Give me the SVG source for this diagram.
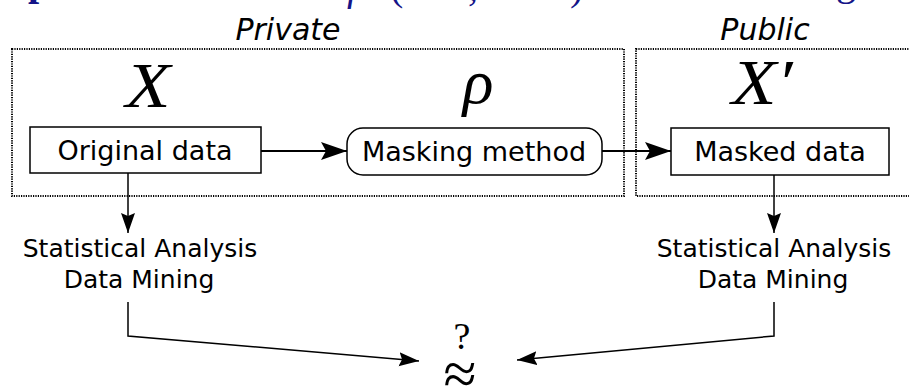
<svg xmlns="http://www.w3.org/2000/svg" width="909" height="388" viewBox="0 0 909 388">
<style>
.dot{fill:none;stroke:#000;stroke-width:2;stroke-dasharray:1.2 1.2}
.box{fill:#fff;stroke:#000;stroke-width:1.5}
.lbl{font-family:"DejaVu Sans",sans-serif;font-size:27px;fill:#000;text-anchor:middle}
.sub{font-family:"DejaVu Sans",sans-serif;font-size:25px;fill:#000;text-anchor:middle}
.hdr{font-family:"DejaVu Sans",sans-serif;font-style:italic;font-size:30px;fill:#000;text-anchor:middle}
.math{font-family:"Liberation Serif",serif;font-style:italic;fill:#000;text-anchor:middle}
.ttl{font-family:"Liberation Serif",serif;font-size:40px;fill:#141488}
.thick{fill:none;stroke:#000;stroke-width:2}
.thin{fill:none;stroke:#000;stroke-width:1.5}
</style>
<defs>
<marker id="big" markerUnits="userSpaceOnUse" markerWidth="28" markerHeight="22" refX="26" refY="11" orient="auto" viewBox="0 0 28 22">
<path d="M26,11 L0,2 L5,11 L0,20 Z" fill="#000"/>
</marker>
<marker id="small" markerUnits="userSpaceOnUse" markerWidth="22" markerHeight="16" refX="20" refY="7" orient="auto" viewBox="0 0 22 16">
<path d="M20,7 L0,0 L3,7 L0,14 Z" fill="#000"/>
</marker>
</defs>
<g id="title-fragment">
<text class="ttl" x="28" y="-5" font-weight="bold">p</text>
<text class="ttl" x="347" y="0" font-style="italic">f</text>
<text class="ttl" x="390" y="0">(</text>
<text class="ttl" x="468" y="0">,</text>
<text class="ttl" x="570" y="0">)</text>
<text class="ttl" x="836" y="-5">g</text>
</g>
<g id="private">
<rect class="dot" x="12" y="49" width="612" height="147"/>
<text class="hdr" x="288" y="40">Private</text>
</g>
<g id="public">
<rect class="dot" x="636" y="49" width="290" height="147"/>
<text class="hdr" x="765" y="40">Public</text>
</g>
<g id="original">
<text class="math" x="148" y="107" font-size="64" transform="translate(148 0) scale(1.15 1) translate(-148 0)">X</text>
<rect class="box" x="30" y="127" width="231" height="46"/>
<text class="lbl" x="145" y="160">Original data</text>
</g>
<g id="masking">
<text class="math" x="478" y="103" font-size="64">ρ</text>
<rect class="box" x="347" y="128" width="255" height="47" rx="16" ry="16"/>
<text class="lbl" x="474" y="161">Masking method</text>
</g>
<g id="masked">
<text class="math" x="762" y="104" font-size="64" transform="translate(762 0) scale(1.15 1) translate(-762 0)">X′</text>
<rect class="box" x="671" y="128" width="218" height="47"/>
<text class="lbl" x="780" y="161">Masked data</text>
</g>
<g id="analysis-left">
<text class="sub" x="140" y="257">Statistical Analysis</text>
<text class="sub" x="139" y="288">Data Mining</text>
</g>
<g id="analysis-right">
<text class="sub" x="774" y="257">Statistical Analysis</text>
<text class="sub" x="773" y="288">Data Mining</text>
</g>
<g id="approx">
<text x="462" y="349" font-family="Liberation Serif, serif" font-size="38" text-anchor="middle">?</text>
<text x="460" y="394" font-family="Liberation Serif, serif" font-size="60" text-anchor="middle">≈</text>
</g>
<g id="connectors">
<line class="thick" x1="261" y1="151" x2="347" y2="151" marker-end="url(#big)"/>
<line class="thick" x1="602" y1="151" x2="671" y2="151" marker-end="url(#big)"/>
<line class="thin" x1="128" y1="173" x2="128" y2="233" marker-end="url(#small)"/>
<line class="thin" x1="774" y1="175" x2="774" y2="233" marker-end="url(#small)"/>
<polyline class="thin" points="128,302 128,336 419,361" marker-end="url(#small)"/>
<polyline class="thin" points="774,302 774,336 517,360" marker-end="url(#small)"/>
</g>
</svg>
